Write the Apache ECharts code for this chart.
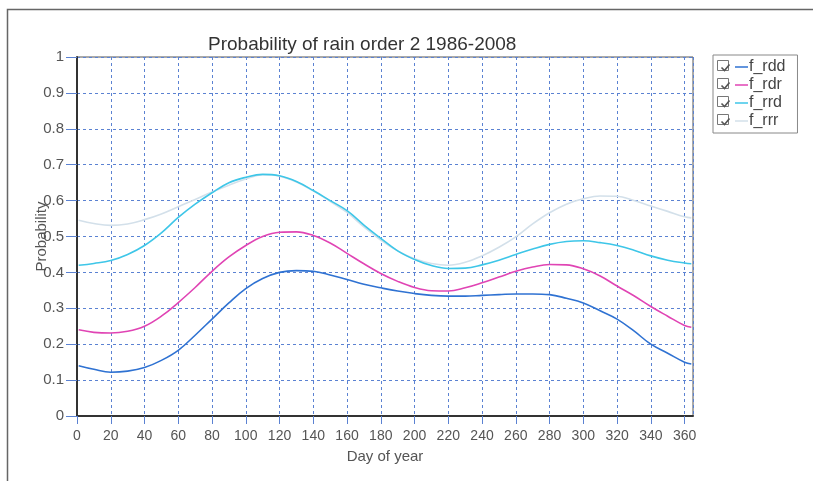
<!DOCTYPE html>
<html lang="en">
<head>
    <meta charset="UTF-8">
    <title>Probability of rain order 2</title>
    <script src="https://cdn.jsdelivr.net/npm/echarts@6/dist/echarts.min.js"></script>
    <style>
        html, body { margin: 0; padding: 0; background: #fff; }
        #main { width: 813px; height: 481px; }
    </style>
</head>
<body>
<div id="main"></div>
<script type="text/javascript">
    // day of year for each sample
    var days = [1, 10, 20, 30, 40, 50, 60, 70, 80, 90, 100, 110, 120, 130, 140, 150, 160, 170, 180,
        190, 200, 210, 220, 230, 240, 250, 260, 270, 280, 290, 300, 310, 320, 330, 340, 350, 360, 364];

    var fRdd = [0.14, 0.13, 0.122, 0.125, 0.135, 0.155, 0.183, 0.225, 0.27, 0.315, 0.355, 0.383, 0.4, 0.405,
        0.403, 0.393, 0.38, 0.367, 0.357, 0.348, 0.341, 0.336, 0.334, 0.334, 0.336, 0.338, 0.34, 0.34,
        0.338, 0.328, 0.315, 0.293, 0.27, 0.237, 0.2, 0.175, 0.15, 0.145];
    var fRdr = [0.24, 0.233, 0.231, 0.236, 0.25, 0.278, 0.316, 0.358, 0.403, 0.443, 0.475, 0.5, 0.512, 0.513,
        0.503, 0.482, 0.453, 0.424, 0.397, 0.375, 0.358, 0.349, 0.348, 0.357, 0.371, 0.387, 0.403, 0.415,
        0.422, 0.421, 0.41, 0.39, 0.362, 0.335, 0.305, 0.278, 0.252, 0.247];
    var fRrd = [0.42, 0.425, 0.433, 0.45, 0.475, 0.51, 0.553, 0.59, 0.622, 0.65, 0.665, 0.673, 0.669, 0.653,
        0.628, 0.6, 0.572, 0.532, 0.495, 0.46, 0.436, 0.419, 0.411, 0.412, 0.421, 0.434, 0.45, 0.465,
        0.478, 0.486, 0.488, 0.483, 0.475, 0.462, 0.446, 0.434, 0.426, 0.424];
    var fRrr = [0.545, 0.536, 0.531, 0.535, 0.547, 0.563, 0.583, 0.603, 0.624, 0.643, 0.66, 0.672, 0.668, 0.652,
        0.627, 0.598, 0.567, 0.527, 0.49, 0.46, 0.438, 0.425, 0.42, 0.428, 0.446, 0.47, 0.499, 0.535,
        0.566, 0.59, 0.605, 0.613, 0.612, 0.6, 0.585, 0.57, 0.555, 0.552];

    var seriesNames = ['f_rdd', 'f_rdr', 'f_rrd', 'f_rrr'];
    var seriesColors = ['#2f72d2', '#e044b4', '#3ec6e8', '#d3e0ea'];
    var seriesData = [fRdd, fRdr, fRrd, fRrr];

    function pairs(values) {
        return days.map(function (d, i) { return [d, values[i]]; });
    }

    var myChart = echarts.init(document.getElementById('main'));

    var gridBlue = '#5b82d2';
    var font = 'Liberation Sans, Arial, sans-serif';

    // checkbox decorations in front of legend entries
    var boxes = [];
    for (var i = 0; i < seriesNames.length; i++) {
        var y0 = 60 + i * 18;
        boxes.push({
            type: 'rect', left: 717, top: y0, shape: { width: 11, height: 10 },
            style: { fill: '#fff', stroke: '#777', lineWidth: 1 }
        });
        boxes.push({
            type: 'polyline', left: 719, top: y0 + 2,
            shape: { points: [[0, 3], [3, 6], [8, 0]] },
            style: { stroke: '#555', lineWidth: 1.6, fill: null }
        });
    }

    var option = {
        animation: false,
        backgroundColor: '#fff',
        title: {
            text: 'Probability of rain order 2 1986-2008',
            left: 203,
            top: 30,
            textStyle: { color: '#333', fontSize: 19, fontWeight: 'normal', fontFamily: font }
        },
        legend: {
            orient: 'vertical',
            left: 713,
            top: 55,
            padding: [4, 12, 4, 22],
            itemGap: 2,
            itemWidth: 13,
            itemHeight: 16,
            icon: 'path://M0,7.5 L13,7.5 L13,9 L0,9 Z',
            borderColor: '#888',
            borderWidth: 1,
            textStyle: { color: '#444', fontSize: 16, fontFamily: font, padding: [0, 0, 0, -4] },
            data: seriesNames
        },
        graphic: [{
            type: 'rect', left: 5, top: 7, shape: { width: 900, height: 600 },
            style: { fill: null, stroke: '#666', lineWidth: 1.5 }
        }].concat(boxes),
        grid: {
            left: 77, top: 57, width: 616, height: 359,
            show: true, borderColor: '#555', borderWidth: 1
        },
        xAxis: {
            type: 'value',
            min: 0, max: 365, interval: 20,
            name: 'Day of year',
            nameLocation: 'middle',
            nameGap: 33,
            nameMoveOverlap: false,
            nameTextStyle: { color: '#555', fontSize: 15, fontFamily: font },
            axisLine: { onZero: false, lineStyle: { color: '#333', width: 2 } },
            axisTick: { length: 8, lineStyle: { color: gridBlue, width: 1 } },
            axisLabel: { showMaxLabel: false, margin: 13, color: '#555', fontSize: 14, fontFamily: font },
            splitLine: { lineStyle: { color: gridBlue, type: [3, 3], width: 1 } }
        },
        yAxis: {
            type: 'value',
            min: 0, max: 1, interval: 0.1,
            name: 'Probability',
            nameLocation: 'middle',
            nameGap: 28,
            nameMoveOverlap: false,
            nameTextStyle: { color: '#555', fontSize: 15, fontFamily: font },
            axisLine: { lineStyle: { color: '#333', width: 2 } },
            axisTick: { length: 11, lineStyle: { color: gridBlue, width: 1 } },
            axisLabel: { margin: 13, color: '#555', fontSize: 15, fontFamily: font },
            splitLine: { lineStyle: { color: gridBlue, type: [3, 3], width: 1 } }
        },
        series: seriesNames.map(function (name, i) {
            return {
                name: name,
                type: 'line',
                smooth: 0.4,
                showSymbol: false,
                data: pairs(seriesData[i]),
                color: seriesColors[i],
                lineStyle: { width: 1.6, color: seriesColors[i] },
                z: 10 - i
            };
        })
    };

    myChart.setOption(option);
</script>
</body>
</html>
